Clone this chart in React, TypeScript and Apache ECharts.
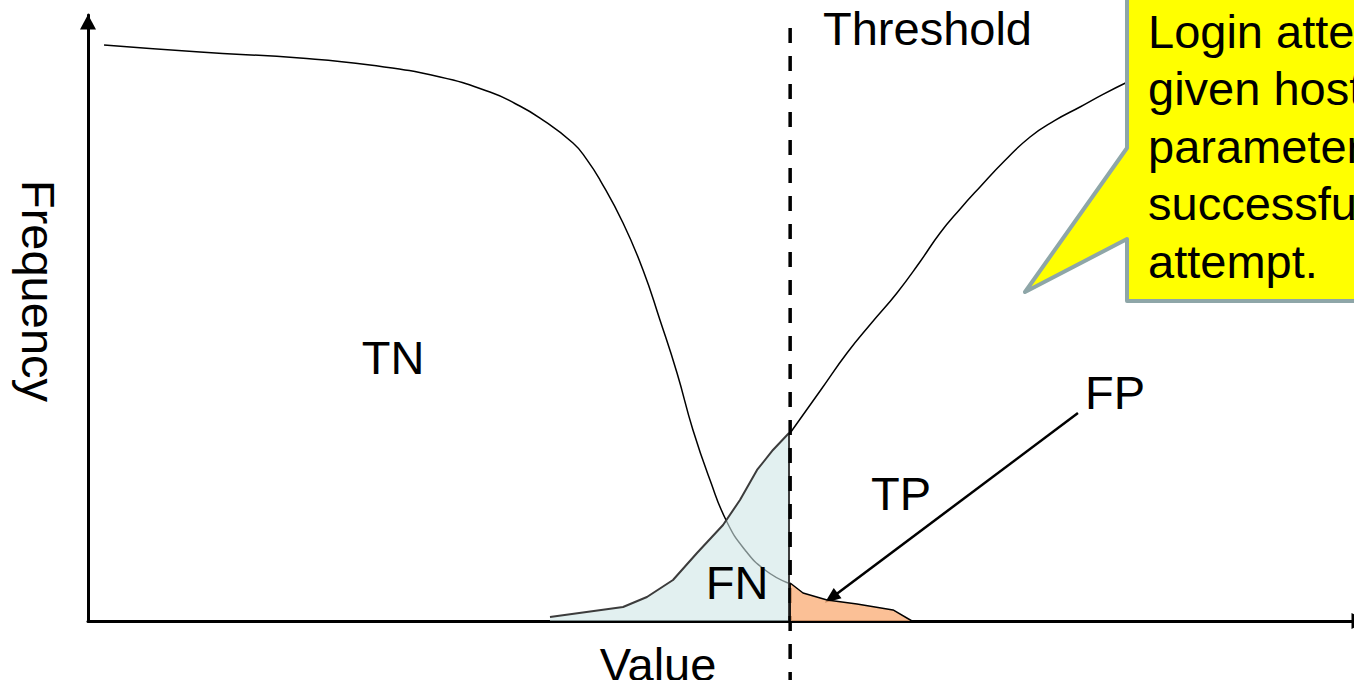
import React, { useEffect, useRef } from "react";
import * as echarts from "echarts";

// x: 0..100 along the Value axis, y: 0..100 along the Frequency axis
const THRESHOLD = 55.55;

const tnCurve: [number, number][] = [
  [1.27, 95.05], [8.86, 93.89], [16.77, 92.9], [22.31, 91.75], [27.85, 89.77],
  [31.8, 87.29], [33.78, 85.4], [35.76, 83.0], [38.37, 78.88], [39.48, 76.1],
  [40.51, 72.77], [42.33, 65.68], [43.91, 57.92], [45.25, 49.67], [46.6, 40.92],
  [47.86, 31.52], [49.21, 23.27], [50.55, 16.34], [51.98, 11.72], [53.56, 8.42],
  [55.38, 6.27],
];

const tpCurve: [number, number][] = [
  [55.55, 31.02], [58.0, 38.2], [60.05, 44.22], [62.0, 49.2], [64.0, 54.13],
  [65.8, 59.2], [67.41, 64.03], [69.0, 68.0], [70.57, 71.62], [72.5, 75.9],
  [74.53, 79.87], [76.5, 82.6], [78.48, 84.82], [80.3, 86.9], [82.2, 88.9],
];

const fnArea: [number, number][] = [
  [36.55, 0.66], [42.33, 2.31], [44.22, 3.96], [46.28, 6.77], [48.18, 11.22],
  [50.24, 15.84], [51.58, 19.97], [52.93, 24.92], [54.19, 28.22], [55.46, 31.02],
  [55.46, 0],
];

const fpArea: [number, number][] = [
  [55.55, 0], [55.55, 6.27], [56.57, 4.62], [58.47, 3.47], [60.84, 2.81],
  [63.69, 1.82], [65.19, 0],
];

const thresholdSpan: [number, number] = [97.85, -9.74];
const fpArrowFrom: [number, number] = [78.32, 34.32];
const fpArrowTo: [number, number] = [58.8, 3.8];

const calloutLines = [
  "Login attempts for a",
  "given host with",
  "parameters of a",
  "successful login",
  "attempt.",
];

const FONT = "'Liberation Sans', Arial, sans-serif";
const FS = 47;

export default function App() {
  const ref = useRef<HTMLDivElement>(null);

  useEffect(() => {
    if (!ref.current) return;
    const chart = echarts.init(ref.current, undefined, { renderer: "svg" });

    const axisCommon = {
      type: "value" as const,
      min: 0,
      max: 100,
      axisTick: { show: false },
      axisLabel: { show: false },
      splitLine: { show: false },
    };

    const textEl = (text: string, x: number, y: number, align: string = "center", rotation = 0) => ({
      type: "text",
      x,
      y,
      rotation,
      z: 100,
      style: {
        text,
        fill: "#000",
        font: `${FS}px ${FONT}`,
        align,
        verticalAlign: "middle",
      },
    });

    const graphics: any[] = [
      textEl("TN", 393, 357),
      textEl("Threshold", 823, 28, "left"),
      textEl("TP", 901, 493),
      textEl("FN", 737, 582),
      textEl("FP", 1115, 392),
      textEl("Value", 658, 664),
      textEl("Frequency", 38, 291, "center", -Math.PI / 2),
      {
        type: "polygon",
        z: 90,
        shape: {
          points: [
            [1127, -10], [1380, -10], [1380, 301], [1127, 301], [1127, 239],
            [1025, 292], [1127, 148],
          ],
        },
        style: { fill: "#ffff00", stroke: "#8ea6a8", lineWidth: 4, lineJoin: "round" },
      },
      ...calloutLines.map((t, i) => ({
        type: "text",
        x: 1148,
        y: 31 + i * 57.5,
        z: 100,
        style: { text: t, fill: "#000", font: `${FS}px ${FONT}`, align: "left", verticalAlign: "middle" },
      })),
    ];

    chart.setOption({
      animation: false,
      backgroundColor: "#fff",
      grid: { left: 88, right: 2, top: 15, bottom: 59, containLabel: false },
      xAxis: {
        ...axisCommon,
        axisLine: {
          show: true,
          onZero: false,
          symbol: ["none", "triangle"],
          symbolSize: [16, 15],
          symbolOffset: [0, 7],
          lineStyle: { color: "#000", width: 3 },
        },
      },
      yAxis: {
        ...axisCommon,
        axisLine: {
          show: true,
          onZero: false,
          symbol: ["none", "triangle"],
          symbolSize: [16, 15],
          symbolOffset: [0, -7],
          lineStyle: { color: "#000", width: 3 },
        },
      },
      series: [
        {
          name: "TN",
          type: "line",
          data: tnCurve,
          smooth: 0.5,
          showSymbol: false,
          silent: true,
          z: 2,
          lineStyle: { color: "#000", width: 1.5 },
        },
        {
          name: "TP",
          type: "line",
          data: tpCurve,
          smooth: 0.5,
          showSymbol: false,
          silent: true,
          z: 2,
          lineStyle: { color: "#000", width: 1.5 },
        },
        {
          name: "FN",
          type: "line",
          data: fnArea,
          showSymbol: false,
          silent: true,
          z: 3,
          lineStyle: { color: "#3c3c3c", width: 2 },
          areaStyle: { color: "rgb(207,230,230)", opacity: 0.6 },
        },
        {
          name: "Threshold",
          type: "line",
          data: [
            [THRESHOLD, thresholdSpan[0]],
            [THRESHOLD, thresholdSpan[1]],
          ],
          clip: false,
          showSymbol: false,
          silent: true,
          z: 4,
          lineStyle: { color: "#000", width: 3.5, type: [15, 13] },
        },
        {
          name: "FP",
          type: "line",
          data: fpArea,
          showSymbol: false,
          silent: true,
          z: 5,
          lineStyle: { color: "#000", width: 1.5 },
          areaStyle: { color: "rgb(250,176,124)", opacity: 0.8 },
          markLine: {
            silent: true,
            symbol: ["none", "triangle"],
            symbolSize: [13, 16],
            label: { show: false },
            lineStyle: { color: "#000", width: 2.5, type: "solid" },
            data: [[{ coord: fpArrowFrom }, { coord: fpArrowTo }]],
          },
        },
      ],
      graphic: graphics,
    });

    return () => chart.dispose();
  }, []);

  return (
    <div
      ref={ref}
      style={{ position: "fixed", left: 0, top: 0, width: 1354, height: 680 }}
    />
  );
}
